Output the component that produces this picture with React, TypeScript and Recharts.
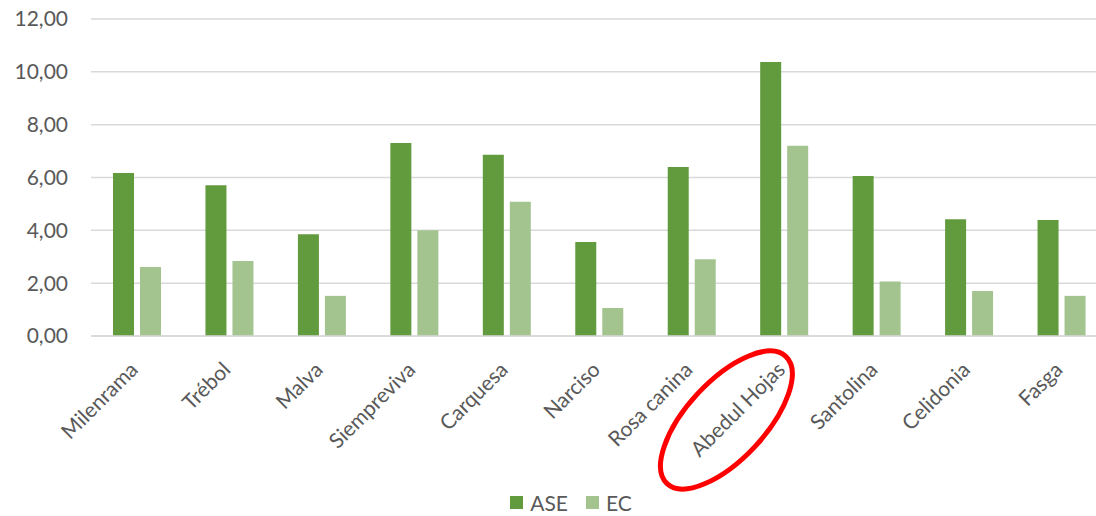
import { Bar, BarChart, CartesianGrid, Legend, XAxis, YAxis } from "recharts"

const categories = [
  "Milenrama",
  "Trébol",
  "Malva",
  "Siempreviva",
  "Carquesa",
  "Narciso",
  "Rosa canina",
  "Abedul Hojas",
  "Santolina",
  "Celidonia",
  "Fasga",
]
const aseValues = [6.17, 5.71, 3.85, 7.31, 6.86, 3.56, 6.4, 10.37, 6.06, 4.42, 4.39]
const ecValues = [2.61, 2.84, 1.52, 4.0, 5.08, 1.06, 2.91, 7.2, 2.06, 1.7, 1.52]
const yTicks = [0, 2, 4, 6, 8, 10, 12]
const highlighted = "Abedul Hojas"

const ASE_COLOR = "#629A3E"
const EC_COLOR = "#A3C48F"
const TEXT = "#595959"
const FONT = "Lato, 'Open Sans', sans-serif"

const data = categories.map((name, i) => ({
  name,
  ASE: aseValues[i],
  EC: ecValues[i],
}))

const fmt = (v: number) => v.toFixed(2).replace(".", ",")

function CategoryTick({ x, y, payload }: any) {
  const label = payload.value as string
  return (
    <g transform={`translate(${x + 2},${y + 33})`}>
      <text
        transform="rotate(-45)"
        textAnchor="end"
        fill={TEXT}
        fontSize={21}
        fontFamily={FONT}
      >
        {label}
      </text>
      {label === highlighted && (
        <ellipse
          cx={-60}
          cy={49}
          rx={87}
          ry={39}
          transform="rotate(-47, -60, 49)"
          fill="none"
          stroke="#FF0000"
          strokeWidth={5}
        />
      )}
    </g>
  )
}

function LegendContent() {
  const items = [
    { label: "ASE", color: ASE_COLOR },
    { label: "EC", color: EC_COLOR },
  ]
  return (
    <div
      style={{
        display: "flex",
        justifyContent: "center",
        gap: 18,
        paddingLeft: 34,
        height: 40,
        alignItems: "flex-start",
        fontFamily: FONT,
        fontSize: 21,
        lineHeight: "21px",
        color: TEXT,
      }}
    >
      {items.map((it) => (
        <div key={it.label} style={{ display: "flex", alignItems: "center", gap: 7, marginTop: 16 }}>
          <span style={{ width: 13, height: 13, background: it.color, display: "inline-block" }} />
          <span>{it.label}</span>
        </div>
      ))}
    </div>
  )
}

export default function App() {
  // fixed frame so the plot can run past the right edge like the original
  return (
    <div
      style={{
        position: "fixed",
        left: 0,
        top: 0,
        width: 1096,
        height: 516,
        overflow: "hidden",
        background: "#fff",
      }}
    >
      <BarChart
        width={1108}
        height={516}
        data={data}
        margin={{ top: 19, right: 0, left: 0, bottom: 0 }}
        barSize={21}
        barGap={6}
      >
        <CartesianGrid vertical={false} stroke="#D9D9D9" strokeWidth={1.5} />
        <XAxis
          dataKey="name"
          interval={0}
          height={140}
          axisLine={{ stroke: "#D9D9D9", strokeWidth: 1.5 }}
          tickLine={false}
          tickSize={0}
          tick={<CategoryTick />}
        />
        <YAxis
          width={91}
          domain={[0, 12]}
          ticks={yTicks}
          tickFormatter={fmt}
          axisLine={false}
          tickLine={false}
          tickMargin={17}
          tick={{ fill: TEXT, fontSize: 21, fontFamily: FONT }}
        />
        <Legend
          verticalAlign="bottom"
          height={40}
          wrapperStyle={{ bottom: 0, height: 40 }}
          content={<LegendContent />}
        />
        <Bar dataKey="ASE" fill={ASE_COLOR} isAnimationActive={false} />
        <Bar dataKey="EC" fill={EC_COLOR} isAnimationActive={false} />
      </BarChart>
    </div>
  )
}
